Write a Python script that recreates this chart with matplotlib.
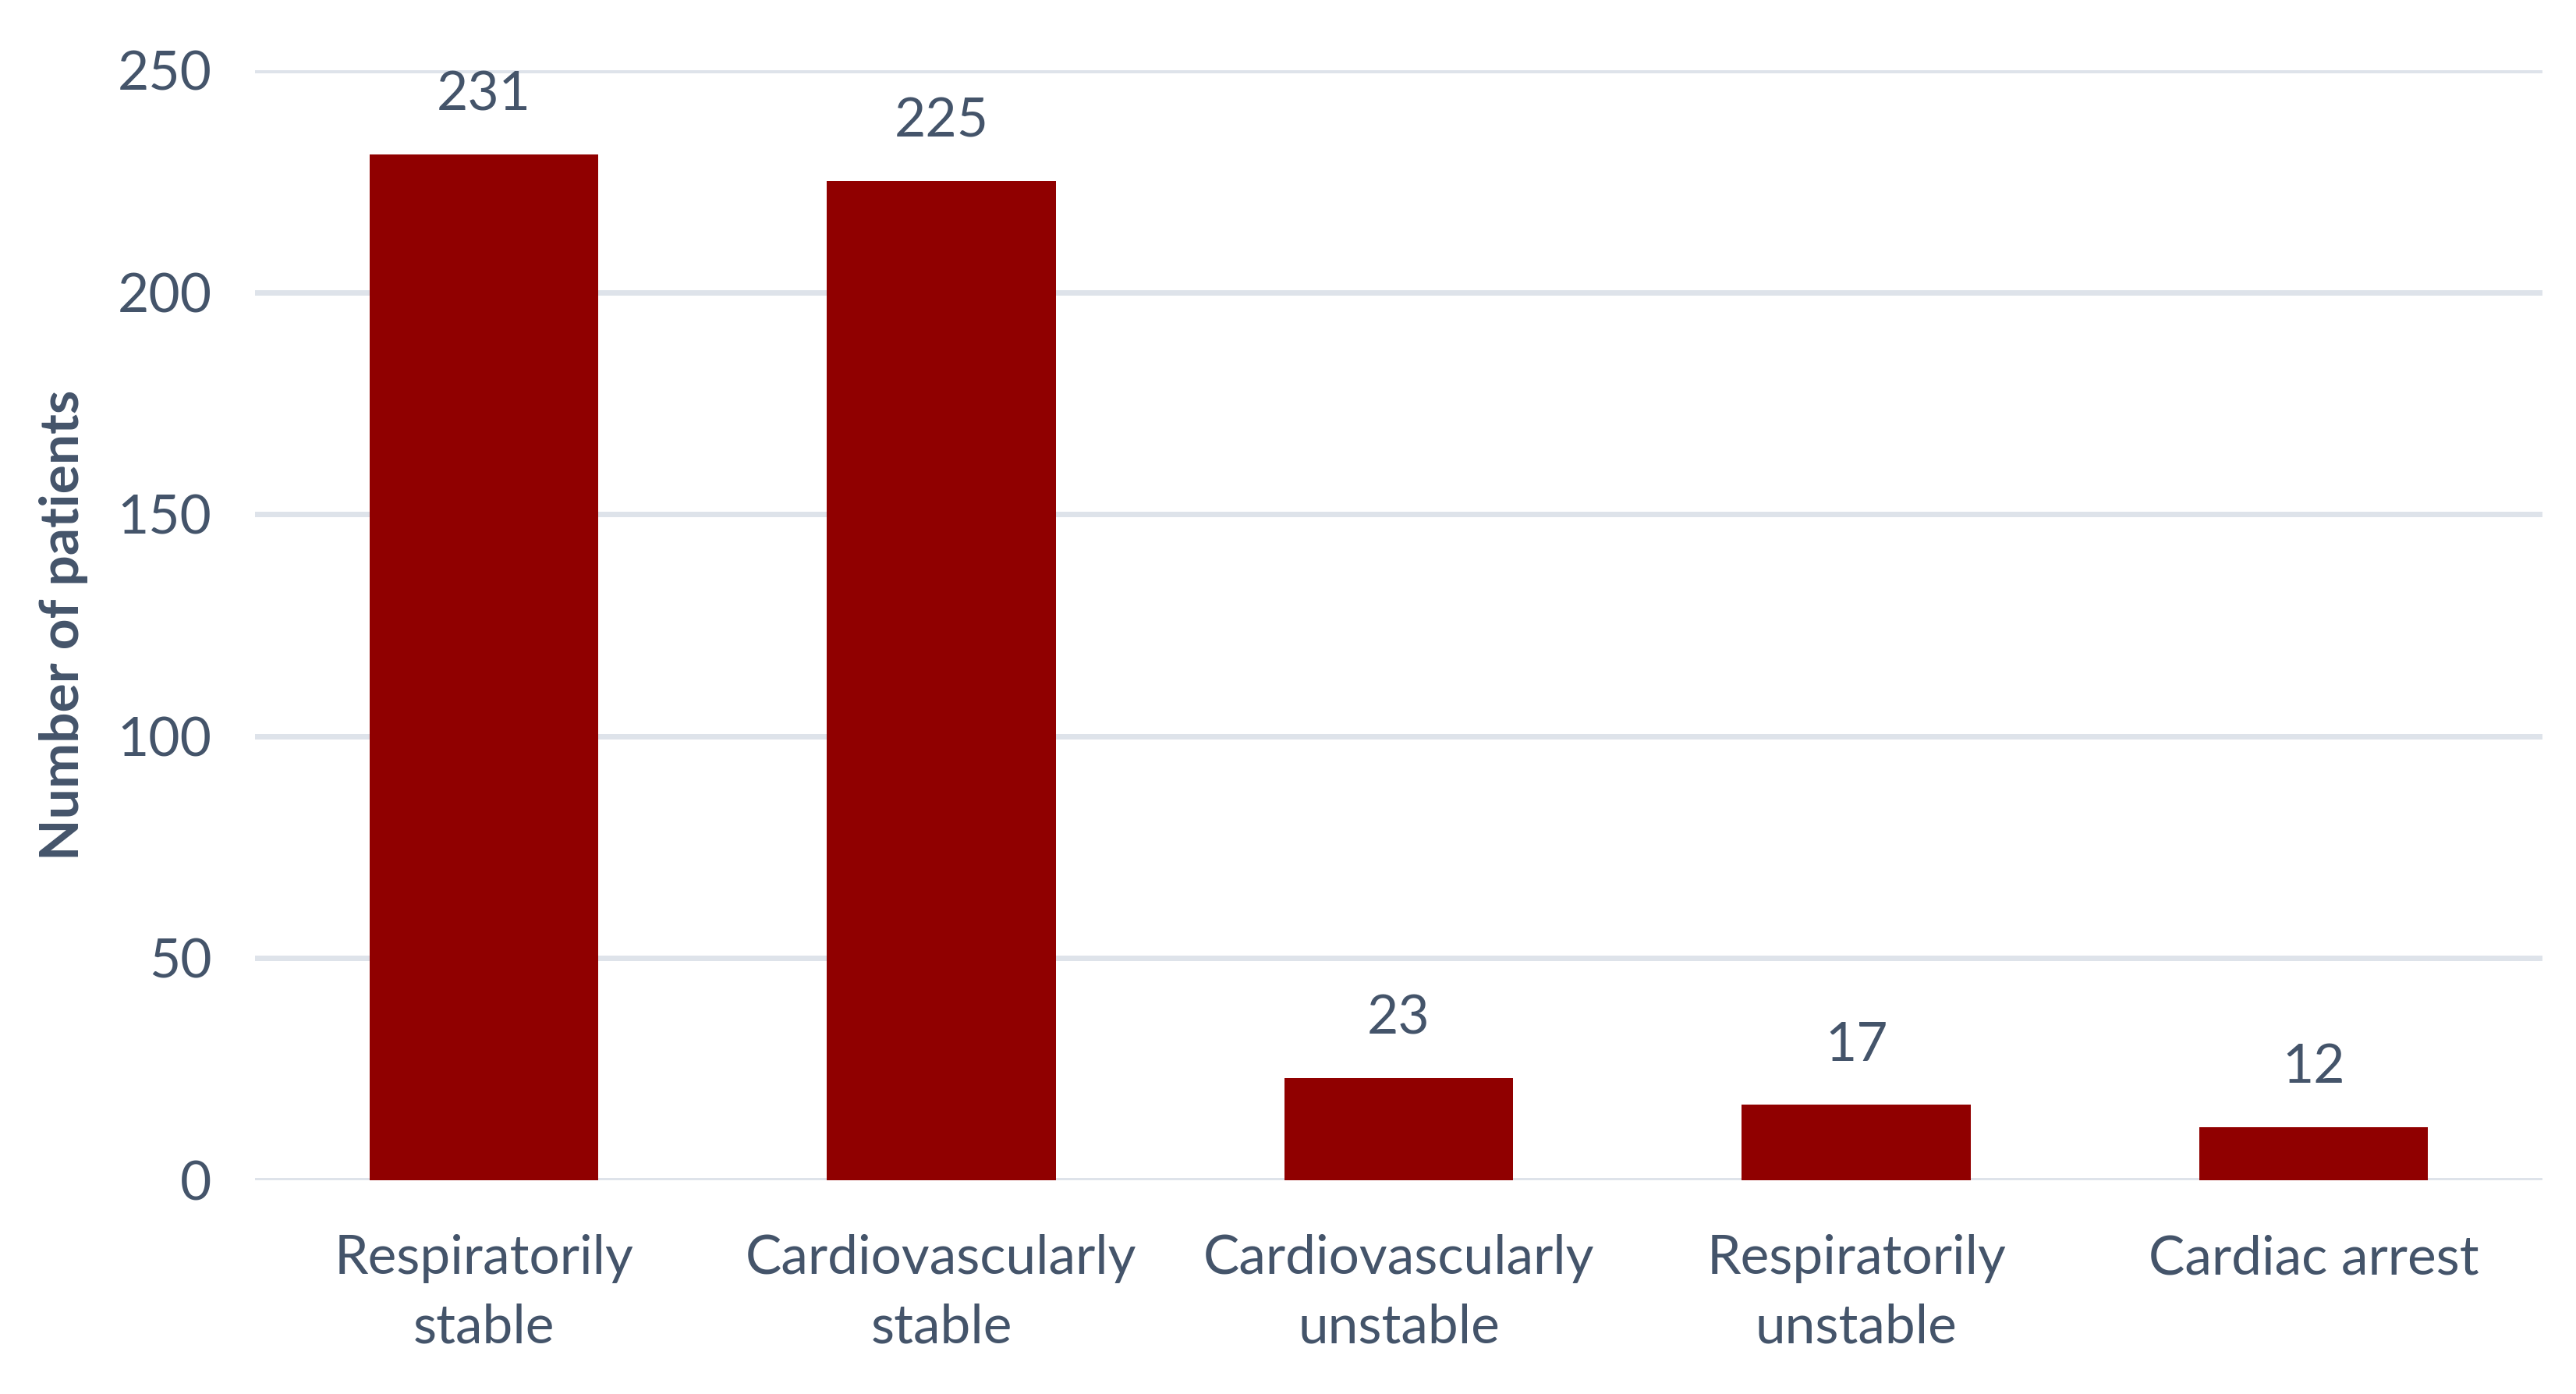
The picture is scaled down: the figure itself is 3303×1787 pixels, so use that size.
import matplotlib
matplotlib.use("Agg")
import matplotlib.pyplot as plt
import numpy as np

categories = ["Respiratorily\nstable", "Cardiovascularly\nstable", "Cardiovascularly\nunstable",
              "Respiratorily\nunstable", "Cardiac arrest"]
patients = [231, 225, 23, 17, 12]
y_ticks = [0, 50, 100, 150, 200, 250]

text_color = "#44546A"
bar_color = "#900000"
grid_color = "#DEE3EA"

plt.rcParams['font.family'] = ['Lato', 'DejaVu Sans']

fig = plt.figure(figsize=(33.03, 17.87), dpi=100, facecolor='w')
ax = fig.add_axes([0.099, 0.1533, 0.888, 0.7963])

x_pos = np.arange(len(categories))
bars = ax.bar(x_pos, patients, width=0.5, color=bar_color, zorder=3)

for rect, val in zip(bars, patients):
    ax.annotate(str(val), (rect.get_x() + rect.get_width() / 2, rect.get_height()),
                xytext=(0, 32), textcoords='offset points', ha='center', va='bottom',
                fontsize=50, color=text_color)

ax.set_xlim(-0.5, len(categories) - 0.5)
ax.set_ylim(0, 250)
ax.set_yticks(y_ticks)
ax.set_xticks(x_pos)
ax.set_xticklabels(categories, linespacing=1.5)
ax.tick_params(axis='both', length=0, labelsize=50, labelcolor=text_color)
ax.tick_params(axis='y', pad=40)
ax.tick_params(axis='x', pad=50)

ax.yaxis.grid(True, color=grid_color, linewidth=5, zorder=0)
for s in ax.spines.values():
    s.set_visible(False)

ax.set_ylabel("Number of patients", fontsize=50, fontweight='bold', color=text_color, labelpad=27)

fig.savefig("out.png", dpi=100, facecolor='w')
